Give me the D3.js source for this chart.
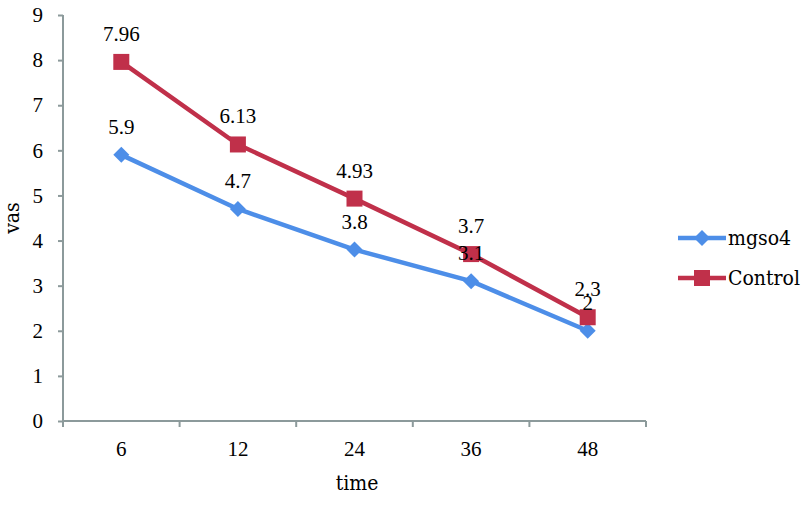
<!DOCTYPE html>
<html><head><meta charset="utf-8">
<script src="https://cdn.jsdelivr.net/npm/d3@7"></script>
<style>body{margin:0;background:#fff}</style>
</head><body>
<svg id="c" width="805" height="507"></svg>
<script>
const categories = ["6","12","24","36","48"];
const mgso4 = [5.9, 4.7, 3.8, 3.1, 2];
const control = [7.96, 6.13, 4.93, 3.7, 2.3];
const mgso4Labels = ["5.9","4.7","3.8","3.1","2"];
const controlLabels = ["7.96","6.13","4.93","3.7","2.3"];
const yTicks = [0,1,2,3,4,5,6,7,8,9];

(function(){
const numFont = '"Liberation Serif", serif';
const wordFont = '"DejaVu Serif Condensed", serif';
const axisColor = "#8c9a9b";
const blue = "#4d8ee8";
const red = "#c0304a";

const svg = d3.select("#c");
const pl = 63, pr = 646, pt = 15, pb = 421;

const x = d3.scaleBand().domain(categories).range([pl, pr]).padding(0);
const y = d3.scaleLinear().domain([0, 9]).range([pb, pt]);

// y axis
const ya = svg.append("g").attr("transform", `translate(${pl},0)`)
  .call(d3.axisLeft(y).tickValues(yTicks).tickSize(5).tickPadding(15).tickFormat(d3.format("d")));
ya.select(".domain").attr("stroke", axisColor).attr("stroke-width", 2).attr("d", `M0,${pt}V${pb}`);
ya.selectAll(".tick line").attr("stroke", axisColor).attr("stroke-width", 2);
ya.selectAll("text").style("font-family", numFont).style("font-size", "21px").attr("fill", "#000");

// x axis
const xa = svg.append("g").attr("transform", `translate(0,${pb})`);
xa.append("line").attr("x1", pl).attr("x2", pr).attr("stroke", axisColor).attr("stroke-width", 2);
const bounds = [pl].concat(categories.map(c => x(c) + x.bandwidth()));
xa.selectAll("line.tk").data(bounds).join("line").attr("class","tk")
  .attr("x1", d => d).attr("x2", d => d).attr("y1", 0).attr("y2", 6)
  .attr("stroke", axisColor).attr("stroke-width", 2);
xa.selectAll("text").data(categories).join("text")
  .attr("x", d => x(d) + x.bandwidth()/2).attr("y", 35)
  .attr("text-anchor", "middle").style("font-family", numFont).style("font-size", "21px").text(d => d);

// titles
svg.append("text").attr("x", 357).attr("y", 490).attr("text-anchor","middle")
  .style("font-family", wordFont).style("font-size", "21px").text("time");
svg.append("text").attr("transform", `translate(19,${(pt+pb)/2}) rotate(-90)`)
  .attr("text-anchor","middle").style("font-family", wordFont).style("font-size", "21px").text("vas");

const cx = d => x(d) + x.bandwidth()/2;
const line = d3.line().x((d,i) => cx(categories[i])).y(d => y(d));

// mgso4
svg.append("path").datum(mgso4).attr("d", line).attr("fill","none")
  .attr("stroke", blue).attr("stroke-width", 4.5).attr("stroke-linejoin","round");
svg.selectAll("path.dia").data(mgso4).join("path").attr("class","dia")
  .attr("d", "M0,-8L8,0L0,8L-8,0Z").attr("fill", blue)
  .attr("transform", (d,i) => `translate(${cx(categories[i])},${y(d)})`);

// control
svg.append("path").datum(control).attr("d", line).attr("fill","none")
  .attr("stroke", red).attr("stroke-width", 4.5).attr("stroke-linejoin","round");
svg.selectAll("rect.sq").data(control).join("rect").attr("class","sq")
  .attr("x", (d,i) => cx(categories[i]) - 8).attr("y", d => y(d) - 8)
  .attr("width", 16).attr("height", 16).attr("fill", red);

// data labels
function labels(vals, texts) {
  svg.append("g").selectAll("text").data(vals).join("text")
    .attr("x", (d,i) => cx(categories[i])).attr("y", d => y(d) - 21)
    .attr("text-anchor","middle").style("font-family", numFont).style("font-size", "21px")
    .text((d,i) => texts[i]);
}
labels(mgso4, mgso4Labels);
labels(control, controlLabels);

// legend
const lg = svg.append("g");
lg.append("line").attr("x1", 678).attr("x2", 726).attr("y1", 238).attr("y2", 238)
  .attr("stroke", blue).attr("stroke-width", 4.5);
lg.append("path").attr("d", "M0,-8L8,0L0,8L-8,0Z").attr("fill", blue).attr("transform","translate(702,238)");
lg.append("text").attr("x", 728).attr("y", 245).style("font-family", wordFont).style("font-size", "21px").text("mgso4");
lg.append("line").attr("x1", 678).attr("x2", 726).attr("y1", 278).attr("y2", 278)
  .attr("stroke", red).attr("stroke-width", 4.5);
lg.append("rect").attr("x", 694).attr("y", 270).attr("width", 16).attr("height", 16).attr("fill", red);
lg.append("text").attr("x", 728).attr("y", 285).style("font-family", wordFont).style("font-size", "21px").text("Control");
})();
</script>
</body></html>
